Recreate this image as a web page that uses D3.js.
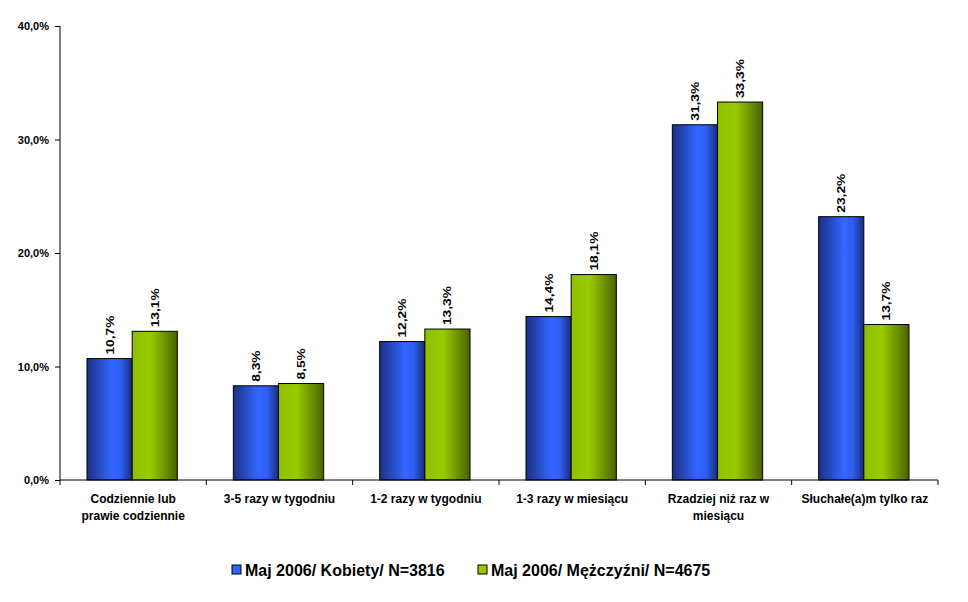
<!DOCTYPE html>
<html lang="pl">
<head>
<meta charset="utf-8">
<style>
body { margin: 0; background: #fff; font-family: Arial, "Liberation Sans", sans-serif; }
.tick text { font-weight: bold; font-size: 11px; }
</style>
</head>
<body>
<script src="https://cdn.jsdelivr.net/npm/d3@7/dist/d3.min.js"></script>
<script>

var categories = [
  ["Codziennie lub", "prawie codziennie"],
  ["3-5 razy w tygodniu"],
  ["1-2 razy w tygodniu"],
  ["1-3 razy w miesiącu"],
  ["Rzadziej niż raz w", "miesiącu"],
  ["Słuchałe(a)m tylko raz"]
];
var seriesNames = ["Maj 2006/ Kobiety/ N=3816", "Maj 2006/ Mężczyźni/ N=4675"];
var kobiety = [10.7, 8.3, 12.2, 14.4, 31.3, 23.2];
var mezczyzni = [13.1, 8.5, 13.3, 18.1, 33.3, 13.7];
var yTicks = [0, 10, 20, 30, 40];

var width = 968, height = 602;
var plotLeft = 60, plotRight = 938, plotTop = 26, plotBottom = 480;

var svg = d3.select("body").append("svg")
    .attr("width", width)
    .attr("height", height);

var defs = svg.append("defs");
function grad(id, stops) {
  var g = defs.append("linearGradient").attr("id", id)
      .attr("x1", "0%").attr("x2", "100%").attr("y1", "0%").attr("y2", "0%");
  stops.forEach(function(s) {
    g.append("stop").attr("offset", s[0]).attr("stop-color", s[1]);
  });
}
grad("gBlue", [["0%", "#1c2f86"], ["55%", "#3366ff"], ["75%", "#2f5ef0"], ["100%", "#1a2c7a"]]);
grad("gGreen", [["0%", "#8fbf00"], ["40%", "#99cc00"], ["100%", "#4a6200"]]);

var x0 = d3.scaleBand()
    .domain(d3.range(categories.length))
    .range([plotLeft, plotRight])
    .paddingInner(0)
    .paddingOuter(0);

var x1 = d3.scaleBand()
    .domain([0, 1])
    .range([27, x0.bandwidth() - 29])
    .padding(0);

var y = d3.scaleLinear()
    .domain([0, 40])
    .range([plotBottom, plotTop]);

var fmt = function(v) { return v.toFixed(1).replace(".", ",") + "%"; };

// y axis
var yAxis = svg.append("g")
    .attr("transform", "translate(" + plotLeft + ",0)")
    .call(d3.axisLeft(y).tickValues(yTicks).tickSize(5).tickPadding(6).tickFormat(fmt));
yAxis.select(".domain").attr("stroke", "#000").attr("d", "M0," + plotTop + "V" + plotBottom);
yAxis.selectAll(".tick line").attr("stroke", "#000");
yAxis.selectAll(".tick text").attr("fill", "#000");

// bars
var fills = ["url(#gBlue)", "url(#gGreen)"];
var data = [kobiety, mezczyzni];
var groups = svg.selectAll("g.cat")
    .data(categories)
    .enter().append("g")
    .attr("class", "cat")
    .attr("transform", function(d, i) { return "translate(" + x0(i) + ",0)"; });

groups.each(function(c, i) {
  var g = d3.select(this);
  [0, 1].forEach(function(s) {
    var v = data[s][i];
    g.append("rect")
      .attr("x", x1(s))
      .attr("y", y(v))
      .attr("width", x1.bandwidth())
      .attr("height", y(0) - y(v))
      .attr("fill", fills[s])
      .attr("stroke", "#000")
      .attr("stroke-width", 1);
    var cx = x1(s) + x1.bandwidth() / 2;
    // labels in the original are tall and narrow, hence the stretch
    g.append("text")
      .attr("transform", "translate(" + (cx + 4) + "," + (y(v) - 4) + ") rotate(-90) scale(1.25,1)")
      .attr("font-size", "11px")
      .attr("font-weight", "bold")
      .attr("fill", "#000")
      .text(fmt(v));
  });
});

// x axis
svg.append("line")
  .attr("x1", plotLeft).attr("x2", plotRight)
  .attr("y1", plotBottom).attr("y2", plotBottom)
  .attr("stroke", "#000");
d3.range(categories.length + 1).forEach(function(i) {
  var xx = i < categories.length ? x0(i) : plotRight;
  svg.append("line")
    .attr("x1", xx).attr("x2", xx)
    .attr("y1", plotBottom).attr("y2", plotBottom + 5)
    .attr("stroke", "#000");
});

groups.each(function(c, i) {
  var t = d3.select(this).append("text")
    .attr("text-anchor", "middle")
    .attr("font-size", "12px")
    .attr("font-weight", "bold")
    .attr("fill", "#000");
  c.forEach(function(line, k) {
    t.append("tspan")
      .attr("x", x0.bandwidth() / 2)
      .attr("y", 503 + k * 17)
      .text(line);
  });
});

// legend
var legendX = [232, 478];
seriesNames.forEach(function(n, s) {
  var lg = svg.append("g").attr("transform", "translate(" + legendX[s] + ",565)");
  lg.append("rect").attr("width", 9).attr("height", 9)
    .attr("fill", s === 0 ? "#3366ff" : "#99cc00")
    .attr("stroke", "#000");
  lg.append("text")
    .attr("x", 13).attr("y", 11)
    .attr("font-size", "16px")
    .attr("font-weight", "bold")
    .attr("fill", "#000")
    .text(n);
});

</script>
</body>
</html>
